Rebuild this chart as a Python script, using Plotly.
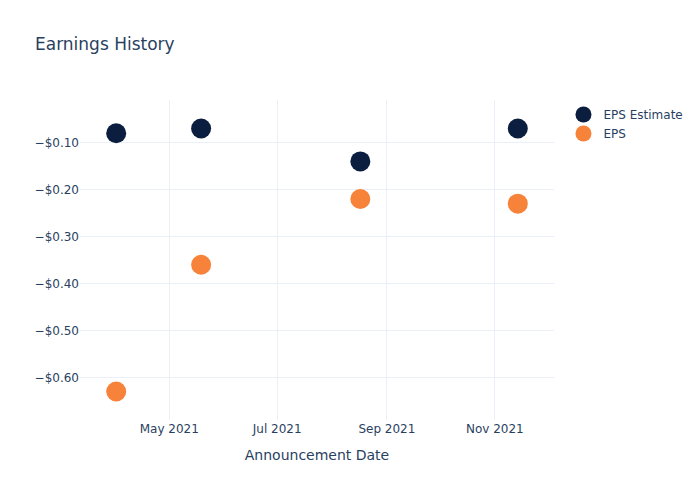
import plotly.graph_objects as go

dates = ["2021-04-01", "2021-05-19", "2021-08-17", "2021-11-14"]
eps_estimate = [-0.08, -0.07, -0.14, -0.07]
eps_actual = [-0.63, -0.36, -0.22, -0.23]

fig = go.Figure()
fig.add_trace(go.Scatter(x=dates, y=eps_estimate, mode="markers", name="EPS Estimate",
                         marker=dict(color="#0b1e3f", size=20)))
fig.add_trace(go.Scatter(x=dates, y=eps_actual, mode="markers", name="EPS",
                         marker=dict(color="#f7823a", size=20)))
fig.update_layout(
    template="plotly_white",
    width=700, height=500,
    font=dict(family="DejaVu Sans"),
    title=dict(text="Earnings History"),
    xaxis=dict(title="Announcement Date", dtick="M2", tickformat="%b %Y"),
    yaxis=dict(tickformat="$.2f"),
)
fig.write_html("out.html", config={"displayModeBar": False},
               post_script="document.body.style.margin='0';")
